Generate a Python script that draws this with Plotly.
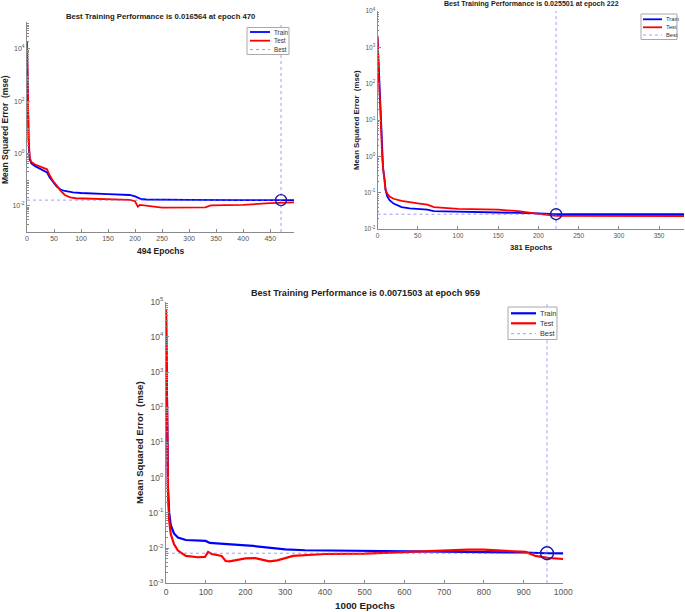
import plotly.graph_objects as go

# ---------------- data ----------------
# Panel A (top-left): 494 epochs, best 0.016564 at epoch 470
a_train_ep = [0, 1, 2, 3, 5, 8, 15, 25, 37, 42, 48, 55, 62, 70, 85, 100, 150, 190, 200, 205, 210, 220, 250, 300, 400, 470, 494]
a_train_v = [2e4, 8e2, 40, 3, 0.6, 0.42, 0.33, 0.26, 0.19, 0.12, 0.08, 0.055, 0.042, 0.037, 0.033, 0.031, 0.028, 0.026,
             0.023, 0.02, 0.0185, 0.0175, 0.017, 0.0168, 0.0166, 0.016564, 0.0165]
a_test_ep = [0, 1, 2, 3, 5, 8, 15, 25, 37, 42, 48, 55, 62, 70, 80, 90, 100, 150, 190, 200, 205, 209, 213, 220, 250, 330, 340, 400, 450, 494]
a_test_v = [2e4, 1e3, 50, 4, 0.7, 0.48, 0.38, 0.31, 0.25, 0.15, 0.09, 0.06, 0.038, 0.026, 0.021, 0.0195, 0.0192, 0.018, 0.017,
            0.015, 0.0094, 0.0108, 0.0106, 0.0097, 0.0086, 0.0088, 0.0105, 0.0108, 0.0128, 0.0135]
a_best_ep, a_best_v, a_epochs = 470, 0.016564, 494

# Panel B (top-right): 381 epochs, best 0.025501 at epoch 222
b_train_ep = [0, 1, 2, 3, 4, 5, 7, 9, 10, 12, 15, 20, 30, 40, 50, 62, 70, 100, 150, 200, 222, 381]
b_train_v = [2000, 600, 80, 40, 8, 2.3, 0.45, 0.22, 0.12, 0.08, 0.062, 0.05, 0.04, 0.037, 0.035, 0.034, 0.031, 0.030,
             0.029, 0.027, 0.025501, 0.0255]
b_test_ep = [0, 1, 2, 3, 4, 6, 8, 10, 12, 15, 20, 30, 50, 62, 70, 100, 150, 175, 200, 215, 222, 381]
b_test_v = [1800, 250, 90, 36, 6.6, 0.8, 0.28, 0.12, 0.095, 0.078, 0.068, 0.059, 0.051, 0.047, 0.04, 0.036, 0.034, 0.031,
            0.026, 0.024, 0.023, 0.0228]
b_best_ep, b_best_v, b_epochs = 222, 0.025501, 381

# Panel C (bottom): 1000 epochs, best 0.0071503 at epoch 959
c_train_ep = [0, 1, 2, 3, 5, 8, 12, 20, 30, 50, 80, 100, 110, 150, 200, 220, 250, 300, 350, 400, 600, 800, 900, 959, 1000]
c_train_v = [5e4, 3e3, 60, 5, 0.5, 0.1, 0.045, 0.026, 0.02, 0.017, 0.0165, 0.016, 0.014, 0.0128, 0.012, 0.0115, 0.0105,
             0.0092, 0.0087, 0.0086, 0.0082, 0.0077, 0.0075, 0.0071503, 0.0071]
c_test_ep = [0, 1, 2, 3, 5, 8, 12, 20, 30, 50, 80, 98, 103, 106, 115, 140, 150, 160, 200, 225, 260, 280, 320, 400, 500,
             600, 700, 760, 800, 870, 905, 930, 960, 1000]
c_test_v = [5.8e4, 2e3, 80, 6, 0.4, 0.06, 0.025, 0.013, 0.0085, 0.006, 0.0055, 0.0056, 0.0072, 0.0078, 0.0068, 0.006,
            0.0043, 0.0042, 0.0051, 0.0052, 0.0042, 0.0045, 0.006, 0.0068, 0.007, 0.0078, 0.0087, 0.0091, 0.009, 0.0083,
            0.0078, 0.006, 0.0053, 0.0049]
c_best_ep, c_best_v, c_epochs = 959, 0.0071503, 1000

# tick labels
ya_vals = [1e-2, 1e0, 1e2, 1e4]
ya_text = ["10<sup>-2</sup>", "10<sup>0</sup>", "10<sup>2</sup>", "10<sup>4</sup>"]
yb_vals = [1e-2, 1e-1, 1e0, 1e1, 1e2, 1e3, 1e4]
yb_text = ["10<sup>-2</sup>", "10<sup>-1</sup>", "10<sup>0</sup>", "10<sup>1</sup>", "10<sup>2</sup>", "10<sup>3</sup>", "10<sup>4</sup>"]
yc_vals = [1e-3, 1e-2, 1e-1, 1e0, 1e1, 1e2, 1e3, 1e4, 1e5]
yc_text = ["10<sup>-3</sup>", "10<sup>-2</sup>", "10<sup>-1</sup>", "10<sup>0</sup>", "10<sup>1</sup>", "10<sup>2</sup>",
           "10<sup>3</sup>", "10<sup>4</sup>", "10<sup>5</sup>"]
xa_ticks = [0, 50, 100, 150, 200, 250, 300, 350, 400, 450]
xb_ticks = [0, 50, 100, 150, 200, 250, 300, 350]
xc_ticks = [0, 100, 200, 300, 400, 500, 600, 700, 800, 900, 1000]
legend_names = ["Train", "Test", "Best"]

# y ranges (log10)
ya_range = [-3, 5.03]
yb_range = [-2, 4]
yc_range = [-3, 5]

FONT = "Liberation Sans, Arial, Helvetica, sans-serif"
W, H = 685, 612
BLUE = "#0000ff"
RED = "#ff0000"
BESTC = "rgba(110,110,255,0.85)"


def px(x):
    return x / W


def py(y):
    return 1 - y / H


def minor_vals(lo, hi):
    out = []
    for k in range(lo, hi):
        for m in range(2, 10):
            out.append(m * 10 ** k)
    return out


fig = go.Figure()

panels = [
    dict(sfx="", tr_ep=a_train_ep, tr_v=a_train_v, te_ep=a_test_ep, te_v=a_test_v,
         best_ep=a_best_ep, best_v=a_best_v, epochs=a_epochs, yr=ya_range, lw=1.8, msize=11,
         leg=dict(box=(247, 27.5, 289, 54.5), x0=250, x1=270, tx=272, ys=(32, 40.7, 49.5), fs=6.3)),
    dict(sfx="2", tr_ep=b_train_ep, tr_v=b_train_v, te_ep=b_test_ep, te_v=b_test_v,
         best_ep=b_best_ep, best_v=b_best_v, epochs=b_epochs, yr=yb_range, lw=1.8, msize=11,
         leg=dict(box=(641, 14, 677, 39.5), x0=643, x1=662, tx=663.5, ys=(19.3, 27.3, 35), fs=5.8)),
    dict(sfx="3", tr_ep=c_train_ep, tr_v=c_train_v, te_ep=c_test_ep, te_v=c_test_v,
         best_ep=c_best_ep, best_v=c_best_v, epochs=c_epochs, yr=yc_range, lw=2.2, msize=13,
         leg=dict(box=(508, 307, 557, 339.5), x0=511, x1=536, tx=537.5, ys=(313.3, 323.3, 333.7), fs=7.3)),
]

shapes = []
annotations = []

for p in panels:
    xa = "x" + p["sfx"]
    ya = "y" + p["sfx"]
    fig.add_trace(go.Scatter(x=p["tr_ep"], y=p["tr_v"], mode="lines", name="Train", showlegend=False,
                             line=dict(color=BLUE, width=p["lw"]), xaxis=xa, yaxis=ya))
    fig.add_trace(go.Scatter(x=p["te_ep"], y=p["te_v"], mode="lines", name="Test", showlegend=False,
                             line=dict(color=RED, width=p["lw"]), xaxis=xa, yaxis=ya))
    ylo, yhi = 10 ** p["yr"][0], 10 ** p["yr"][1]
    fig.add_trace(go.Scatter(x=[0, p["best_ep"], None, p["best_ep"], p["best_ep"]],
                             y=[p["best_v"], p["best_v"], None, ylo, yhi], mode="lines", name="Best",
                             showlegend=False,
                             line=dict(color=BESTC, width=0.8, dash="dot"), xaxis=xa, yaxis=ya))
    fig.add_trace(go.Scatter(x=[p["best_ep"]], y=[p["best_v"]], mode="markers", showlegend=False,
                             marker=dict(symbol="circle-open", size=p["msize"], color="#1a1aa8",
                                         line=dict(width=1.4, color="#1a1aa8")),
                             xaxis=xa, yaxis=ya))
    # legend box (MATLAB style)
    L = p["leg"]
    bx0, by0, bx1, by1 = L["box"]
    shapes.append(dict(type="rect", xref="paper", yref="paper", x0=px(bx0), x1=px(bx1), y0=py(by1), y1=py(by0),
                       fillcolor="white", line=dict(color="#a8a8a8", width=1), layer="above"))
    styles = [dict(color=BLUE, width=p["lw"]), dict(color=RED, width=p["lw"]),
              dict(color=BESTC, width=0.8, dash="dot")]
    for name, yy, st in zip(legend_names, L["ys"], styles):
        shapes.append(dict(type="line", xref="paper", yref="paper", x0=px(L["x0"]), x1=px(L["x1"]),
                           y0=py(yy), y1=py(yy), line=st, layer="above"))
        annotations.append(dict(text=name, x=px(L["tx"]), y=py(yy), xref="paper", yref="paper", showarrow=False,
                                xanchor="left", yanchor="middle",
                                font=dict(size=L["fs"], color="#333333", family=FONT)))

AX = "#8a8a8a"
TICKC = "#555555"


def xaxis(domain, rng, ticks, anchor, fs):
    return dict(domain=domain, range=rng, tickvals=ticks, anchor=anchor, showline=True, linecolor=AX,
                linewidth=1, ticks="inside", ticklen=3, tickcolor=AX, showgrid=False, zeroline=False,
                automargin=False, tickfont=dict(size=fs, color=TICKC, family=FONT), mirror=False)


def yaxis(domain, rng, vals, text, anchor, fs):
    return dict(domain=domain, type="log", range=rng, tickvals=vals, ticktext=text, anchor=anchor,
                showline=True, linecolor=AX, linewidth=1, ticks="inside", ticklen=3, tickcolor=AX,
                showgrid=False, zeroline=False, automargin=False, tickfont=dict(size=fs, color=TICKC, family=FONT),
                minor=dict(tickvals=minor_vals(int(rng[0]) - 1, int(rng[1]) + 1), ticks="inside", ticklen=1.5,
                           tickcolor=AX, showgrid=False))


fig.update_layout(
    width=W, height=H, autosize=False,
    margin=dict(l=0, r=0, t=0, b=0, autoexpand=False),
    paper_bgcolor="white", plot_bgcolor="white",
    font=dict(family=FONT),
    showlegend=False,
    xaxis=xaxis([px(27), px(294)], [0, a_epochs], xa_ticks, "y", 7),
    yaxis=yaxis([py(232), py(22)], ya_range, ya_vals, ya_text, "x", 7),
    xaxis2=xaxis([px(377.5), px(684)], [0, b_epochs], xb_ticks, "y2", 6.5),
    yaxis2=yaxis([py(229), py(11)], yb_range, yb_vals, yb_text, "x2", 6.5),
    xaxis3=xaxis([px(166), px(563.3)], [0, c_epochs], xc_ticks, "y3", 8.5),
    yaxis3=yaxis([py(583.3), py(301.7)], yc_range, yc_vals, yc_text, "x3", 8.5),
)

ann = [
    dict(text="<b>Best Training Performance is 0.016564 at epoch 470</b>", x=px(160.5), y=py(16), size=7.7),
    dict(text="<b>Best Training Performance is 0.025501 at epoch 222</b>", x=px(531), y=py(4.5), size=7.1),
    dict(text="<b>Best Training Performance is 0.0071503 at epoch 959</b>", x=px(365), y=py(293), size=9.1),
    dict(text="<b>494 Epochs</b>", x=px(160.5), y=py(251), size=8.5),
    dict(text="<b>381 Epochs</b>", x=px(531), y=py(247), size=7.6),
    dict(text="<b>1000 Epochs</b>", x=px(365), y=py(605.5), size=9.8),
]
for a in ann:
    annotations.append(dict(text=a["text"], x=a["x"], y=a["y"], xref="paper", yref="paper", showarrow=False,
                            xanchor="center", yanchor="middle",
                            font=dict(size=a["size"], color="#222222", family=FONT)))
for (xx, yy, s) in [(5, 130, 8.5), (357, 120, 7.8), (139, 443, 9.6)]:
    annotations.append(dict(text="<b>Mean Squared Error  (mse)</b>", x=px(xx), y=py(yy), xref="paper", yref="paper",
                            showarrow=False, textangle=-90, xanchor="center", yanchor="middle",
                            font=dict(size=s, color="#222222", family=FONT)))
fig.update_layout(annotations=annotations, shapes=shapes)

fig.write_html("out.html", config={"displayModeBar": False},
               post_script="document.body.style.margin='0';document.body.style.padding='0';"
                           "document.body.style.overflow='hidden';")
